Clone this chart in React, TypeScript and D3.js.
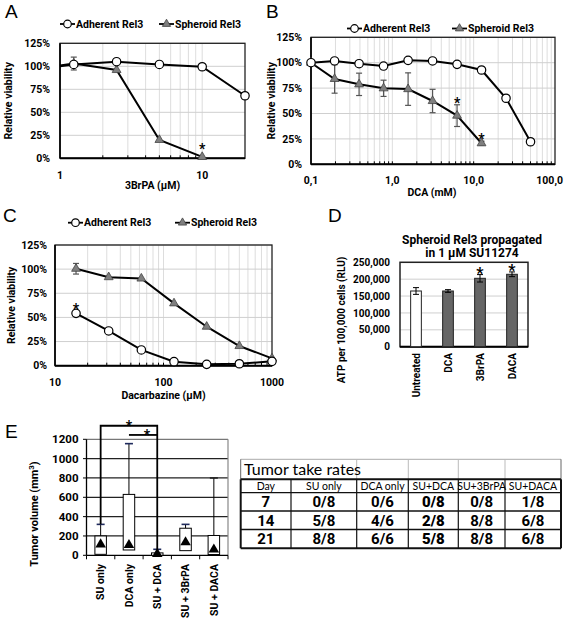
import React from "react";
import * as d3 from "d3";

const FONT = "Roboto, 'Open Sans', 'DejaVu Sans', sans-serif";
const TABLE_FONT = "Lato, Roboto, sans-serif";
const LABEL_FONT = "'Liberation Sans', Arial, sans-serif";

// ---------- Panel A: 3BrPA ----------
const aDoses = [1, 1.25, 2.5, 5, 10, 20];
const aAdherent = [100, 102, 105, 102, 99.5, 68];
const aSpheroid = [101, 103, 96, 20, 1.5];
const aSpheroidErr = [0, 7, 0, 0, 0];
const aStars = [{ x: 10, y: 12.6 }];
const aXTicks = [1, 10];
const aXTickLabels = ["1", "10"];

// ---------- Panel B: DCA ----------
const bDoses = [0.1, 0.195, 0.39, 0.78, 1.5625, 3.125, 6.25, 12.5, 25, 50];
const bAdherent = [100, 101.7, 99, 96.7, 102.3, 101.7, 98.4, 92.8, 65, 22.2];
const bSpheroid = [100, 84, 78.7, 74.8, 74, 62.3, 47.9, 20.7];
const bSpheroidErr = [0, 14, 11, 8, 16, 11.5, 10.7, 2];
const bStars = [{ x: 6.25, y: 62.3 }, { x: 12.5, y: 26.6 }];
const bXTicks = [0.1, 1, 10, 100];
const bXTickLabels = ["0,1", "1,0", "10,0", "100,0"];

// ---------- Panel C: Dacarbazine ----------
const cDoses = [15.625, 31.25, 62.5, 125, 250, 500, 1000];
const cAdherent = [54.2, 36, 16.3, 4.2, 1.4, 2, 4.5];
const cSpheroid = [100.4, 91.7, 90.3, 64.6, 40.4, 20.4, 7.6];
const cSpheroidErr = [5.5, 0, 0, 0, 0, 0, 0];
const cStars = [{ x: 15.625, y: 60.5 }];
const cXTicks = [10, 100, 1000];
const cXTickLabels = ["10", "100", "1000"];

const pctTicks = [0, 25, 50, 75, 100, 125];

// ---------- Panel D: ATP ----------
const dCats = ["Untreated", "DCA", "3BrPA", "DACA"];
const dValues = [165000, 165000, 202600, 214500];
const dErrors = [10000, 4000, 11000, 7000];
const dFills = ["#ffffff", "#666666", "#666666", "#666666"];
const dStarred = [false, false, true, true];
const dTicks = [0, 50000, 100000, 150000, 200000, 250000];

// ---------- Panel E: tumor volume ----------
const eGroups = ["SU only", "DCA only", "SU + DCA", "SU + 3BrPA", "SU + DACA"];
const eQ1 = [10, 55, 0, 48, 8];
const eQ3 = [200, 630, 25, 280, 205];
const eMax = [320, 1155, 62, 320, 800];
const eMean = [113, 106, 15, 135, 60];
const eTicks = [0, 200, 400, 600, 800, 1000, 1200];

// ---------- Table ----------
const tableTitle = "Tumor take rates";
const tableHeader = ["Day", "SU only", "DCA only", "SU+DCA", "SU+3BrPA", "SU+DACA"];
const tableDays = ["7", "14", "21"];
const takeSUOnly = ["0/8", "5/8", "8/8"];
const takeDCAOnly = ["0/6", "4/6", "6/6"];
const takeSUDCA = ["0/8", "2/8", "5/8"];
const takeSU3BrPA = ["0/8", "8/8", "8/8"];
const takeSUDACA = ["1/8", "6/8", "6/8"];

const triPath = (size: number) => d3.symbol(d3.symbolTriangle, size)() as string;

function Legend({ x1, x2, y, label1, label2 }: any) {
  return (
    <g fontFamily={FONT} fontWeight={700} fontSize={10.5}>
      <line x1={x1} x2={x1 + 15} y1={y} y2={y} stroke="#000" strokeWidth={1.8} />
      <circle cx={x1 + 7.5} cy={y} r={3.8} fill="#fff" stroke="#000" strokeWidth={1.2} />
      <text x={x1 + 16} y={y} dy="0.36em">{label1}</text>
      <line x1={x2} x2={x2 + 15} y1={y} y2={y} stroke="#000" strokeWidth={1.8} />
      <path d={triPath(30)} transform={`translate(${x2 + 7.5},${y})`} fill="#7f7f7f" stroke="#444" strokeWidth={0.8} />
      <text x={x2 + 16} y={y} dy="0.36em">{label2}</text>
    </g>
  );
}

function LogPanel({ c }: any) {
  const x = d3.scaleLog().domain(c.xDomain).range(c.xRange);
  const y = d3.scaleLinear().domain([0, 125]).range(c.yRange);
  const grid = x.ticks().filter((v) => v > c.xDomain[0] * 1.001 && v < c.xDomain[1] * 0.999);
  const line = d3.line<number>().x((_, i) => x(c.doses[i])).y((v) => y(v));
  const [x0, x1] = c.xRange;
  const [yb, yt] = c.yRange;
  return (
    <g fontFamily={FONT} fontWeight={700}>
      {grid.map((v: number, i: number) => (
        <line key={"gv" + i} x1={x(v)} x2={x(v)} y1={yt} y2={yb} stroke="#d4d4d4" strokeWidth={0.8} />
      ))}
      {pctTicks.map((t) => (
        <line key={"gh" + t} x1={x0} x2={x1} y1={y(t)} y2={y(t)} stroke="#cfcfcf" strokeWidth={1} />
      ))}
      <rect x={x0} y={yt} width={x1 - x0} height={yb - yt} fill="none" stroke="#222" strokeWidth={1.3} />
      <line x1={x0} x2={x1} y1={yb} y2={yb} stroke="#000" strokeWidth={2} />
      <line x1={x0} x2={x0} y1={yt} y2={yb} stroke="#000" strokeWidth={1.6} />
      {grid.map((v: number, i: number) => (
        <line key={"tk" + i} x1={x(v)} x2={x(v)} y1={yb} y2={yb - 3} stroke="#000" strokeWidth={1} />
      ))}
      {pctTicks.map((t) => (
        <text key={"yl" + t} x={c.yLabelX} y={y(t)} dy="0.36em" textAnchor="end" fontSize={10.5}>
          {t + "%"}
        </text>
      ))}
      {c.xTicks.map((t: number, i: number) => {
        const last = i === c.xTicks.length - 1 && c.lastEnd;
        return (
          <text key={"xl" + t} x={last ? c.lastEnd : x(t)} y={c.xLabelY} textAnchor={last ? "end" : "middle"} fontSize={10.5}>
            {c.xTickLabels[i]}
          </text>
        );
      })}
      <text x={(x0 + x1) / 2 + c.titleDx} y={c.xTitleY} textAnchor="middle" fontSize={10.5}>
        {c.xTitle}
      </text>
      <text transform={`translate(${c.yTitleX},${(yt + yb) / 2}) rotate(-90)`} textAnchor="middle" fontSize={10.5}>
        Relative viability
      </text>
      {/* spheroid */}
      <path d={line(c.spheroid) as string} fill="none" stroke="#000" strokeWidth={2} />
      {c.spheroid.map((v: number, i: number) =>
        c.spheroidErr[i] > 0 ? (
          <g key={"eb" + i} stroke="#555" strokeWidth={1.2}>
            <line x1={x(c.doses[i])} x2={x(c.doses[i])} y1={y(v - c.spheroidErr[i])} y2={y(v + c.spheroidErr[i])} />
            <line x1={x(c.doses[i]) - 3} x2={x(c.doses[i]) + 3} y1={y(v - c.spheroidErr[i])} y2={y(v - c.spheroidErr[i])} />
            <line x1={x(c.doses[i]) - 3} x2={x(c.doses[i]) + 3} y1={y(v + c.spheroidErr[i])} y2={y(v + c.spheroidErr[i])} />
          </g>
        ) : null
      )}
      {c.spheroid.map((v: number, i: number) =>
        c.hideFirst && i === 0 ? null : (
          <path key={"tri" + i} d={triPath(34)} transform={`translate(${x(c.doses[i])},${y(v)})`} fill="#7f7f7f" stroke="#444" strokeWidth={0.8} />
        )
      )}
      {/* adherent */}
      <path d={line(c.adherent) as string} fill="none" stroke="#000" strokeWidth={2} />
      {c.adherent.map((v: number, i: number) =>
        c.hideFirst && i === 0 ? null : (
          <circle key={"ci" + i} cx={x(c.doses[i])} cy={y(v)} r={4.2} fill="#fff" stroke="#000" strokeWidth={1.2} />
        )
      )}
      {c.stars.map((s: any, i: number) => (
        <text key={"st" + i} x={x(s.x)} y={y(s.y) + 7} textAnchor="middle" fontSize={14}>
          *
        </text>
      ))}
    </g>
  );
}

function PanelD() {
  const x = d3.scaleBand<string>().domain(dCats).range([400, 528]).paddingInner(0.66).paddingOuter(0.33);
  const y = d3.scaleLinear().domain([0, 250000]).range([346.7, 262.3]);
  const fmt = d3.format(",");
  const bw = 10.7;
  return (
    <g fontFamily={FONT} fontWeight={700}>
      <text x={472} y={244} textAnchor="middle" fontSize={12}>Spheroid Rel3 propagated</text>
      <text x={472} y={257} textAnchor="middle" fontSize={12}>in 1 µM SU11274</text>
      {dTicks.map((t) => (
        <line key={"g" + t} x1={400} x2={528} y1={y(t)} y2={y(t)} stroke="#cfcfcf" strokeWidth={1} />
      ))}
      <rect x={400} y={262.3} width={128} height={84.4} fill="none" stroke="#222" strokeWidth={1.5} />
      <line x1={400} x2={528} y1={346.7} y2={346.7} stroke="#000" strokeWidth={2} />
      {dTicks.map((t) => (
        <text key={"l" + t} x={390} y={y(t)} dy="0.36em" textAnchor="end" fontSize={10}>
          {fmt(t)}
        </text>
      ))}
      <text transform={`translate(345,320) rotate(-90)`} textAnchor="middle" fontSize={10}>
        ATP per 100,000 cells (RLU)
      </text>
      {dCats.map((cat, i) => {
        const cx = (x(cat) as number) + x.bandwidth() / 2;
        return (
          <g key={cat}>
            <rect x={cx - bw / 2} y={y(dValues[i])} width={bw} height={346.7 - y(dValues[i])} fill={dFills[i]} stroke="#222" strokeWidth={1} />
            <g stroke="#000" strokeWidth={1}>
              <line x1={cx} x2={cx} y1={y(dValues[i] - dErrors[i])} y2={y(dValues[i] + dErrors[i])} />
              <line x1={cx - 3} x2={cx + 3} y1={y(dValues[i] - dErrors[i])} y2={y(dValues[i] - dErrors[i])} />
              <line x1={cx - 3} x2={cx + 3} y1={y(dValues[i] + dErrors[i])} y2={y(dValues[i] + dErrors[i])} />
            </g>
            {dStarred[i] ? (
              <text x={cx} y={y(dValues[i] + dErrors[i]) + 4} textAnchor="middle" fontSize={16}>*</text>
            ) : null}
            <text transform={`translate(${cx},353) rotate(-90)`} dy="0.36em" textAnchor="end" fontSize={10}>
              {cat}
            </text>
          </g>
        );
      })}
    </g>
  );
}

function PanelE() {
  const x = d3.scaleBand<string>().domain(eGroups).range([86.5, 228]);
  const y = d3.scaleLinear().domain([0, 1200]).range([555.3, 439.3]);
  const bw = 11.5;
  const cx = (g: string) => (x(g) as number) + x.bandwidth() / 2;
  const bracketTop = y(1340);
  const bracket2 = y(1245);
  return (
    <g fontFamily={FONT} fontWeight={700}>
      {eTicks.filter((t) => t > 0 && t < 1200).map((t) => (
        <line key={"g" + t} x1={86.5} x2={228} y1={y(t)} y2={y(t)} stroke="#222" strokeWidth={1.3} />
      ))}
      <line x1={86.5} x2={228} y1={y(1200)} y2={y(1200)} stroke="#777" strokeWidth={1.3} />
      <line x1={228} x2={228} y1={y(1200)} y2={y(0)} stroke="#888" strokeWidth={1.2} />
      <line x1={86.5} x2={86.5} y1={y(1200)} y2={y(0)} stroke="#000" strokeWidth={1.3} />
      <line x1={86.5} x2={228} y1={y(0)} y2={y(0)} stroke="#000" strokeWidth={1.3} />
      {d3.range(eGroups.length + 1).map((i) => (
        <line key={"tk" + i} x1={86.5 + i * x.step()} x2={86.5 + i * x.step()} y1={y(0)} y2={y(0) + 4} stroke="#000" strokeWidth={1} />
      ))}
      {eTicks.map((t) => (
        <line key={"yt" + t} x1={83} x2={86.5} y1={y(t)} y2={y(t)} stroke="#000" strokeWidth={1} />
      ))}
      {eTicks.map((t) => (
        <text key={"yl" + t} x={78.5} y={y(t)} dy="0.36em" textAnchor="end" fontSize={11.5}>
          {t}
        </text>
      ))}
      <text transform={`translate(38,514) rotate(-90)`} textAnchor="middle" fontSize={11}>
        Tumor volume (mm<tspan baselineShift="super" fontSize={8}>3</tspan>)
      </text>
      {eGroups.map((g, i) => (
        <g key={g}>
          <line x1={cx(g)} x2={cx(g)} y1={y(eQ3[i])} y2={y(eMax[i])} stroke="#000" strokeWidth={1} />
          <line x1={cx(g) - 4} x2={cx(g) + 4} y1={y(eMax[i])} y2={y(eMax[i])} stroke={i === 4 ? "#222" : "#1f2a5c"} strokeWidth={1.6} />
          <rect x={cx(g) - bw / 2} y={y(eQ3[i])} width={bw} height={y(eQ1[i]) - y(eQ3[i])} fill="#fff" stroke="#000" strokeWidth={1} />
          <path d={triPath(48)} transform={`translate(${cx(g)},${y(eMean[i])})`} fill="#000" />
          <text transform={`translate(${cx(g)},564) rotate(-90)`} dy="0.36em" textAnchor="end" fontSize={10.5}>
            {g}
          </text>
        </g>
      ))}
      {/* significance brackets */}
      <path
        d={`M${cx(eGroups[0])},${y(eMax[0])}V${bracketTop}H${cx(eGroups[2])}V${y(37)}`}
        fill="none"
        stroke="#000"
        strokeWidth={1.8}
      />
      <line x1={cx(eGroups[1])} x2={cx(eGroups[2])} y1={bracket2} y2={bracket2} stroke="#000" strokeWidth={1.8} />
      <text x={129} y={bracketTop + 5} textAnchor="middle" fontSize={14}>*</text>
      <text x={147} y={bracket2 + 5} textAnchor="middle" fontSize={14}>*</text>
    </g>
  );
}

const colEdges = [240.7, 291, 356.7, 408.3, 458.3, 505, 561];
const rowEdges = [459.3, 479.3, 492.7, 511, 529.5, 548.3];

function Table() {
  const cols = [tableDays, takeSUOnly, takeDCAOnly, takeSUDCA, takeSU3BrPA, takeSUDACA];
  const mid = (i: number) => (colEdges[i] + colEdges[i + 1]) / 2;
  return (
    <g fontFamily={TABLE_FONT}>
      <line x1={colEdges[0]} x2={colEdges[6]} y1={rowEdges[0]} y2={rowEdges[0]} stroke="#aaa" strokeWidth={1} />
      {[0, 2, 3, 4, 5, 6].map((c) => (
        <line key={"tv" + c} x1={colEdges[c]} x2={colEdges[c]} y1={rowEdges[0]} y2={rowEdges[1]} stroke={c === 0 || c === 6 ? "#666" : "#bbb"} strokeWidth={1} />
      ))}
      <text x={244} y={475} fontSize={16}>{tableTitle}</text>
      {rowEdges.slice(1).map((r, i) => (
        <line key={"r" + i} x1={colEdges[0]} x2={colEdges[6]} y1={r} y2={r} stroke="#111" strokeWidth={i === 0 || i === 4 ? 2 : 1.3} />
      ))}
      {colEdges.map((c, i) => (
        <line key={"c" + i} x1={c} x2={c} y1={rowEdges[1]} y2={rowEdges[5]} stroke="#111" strokeWidth={i === 0 || i === 6 ? 2 : 1.2} />
      ))}
      {tableHeader.map((h, i) => (
        <text key={h} x={mid(i)} y={490} textAnchor="middle" fontSize={10.5}>
          {h}
        </text>
      ))}
      {tableDays.map((_, r) => (
        <g key={"row" + r}>
          {cols.map((col, ci) => (
            <text
              key={ci}
              x={mid(ci)}
              y={(rowEdges[r + 2] + rowEdges[r + 3]) / 2}
              dy="0.36em"
              textAnchor="middle"
              fontSize={15}
              fontFamily={FONT}
              fontWeight={ci === 3 ? 900 : 700}
            >
              {col[r]}
            </text>
          ))}
        </g>
      ))}
    </g>
  );
}

export default function App() {
  const cfgA = {
    doses: aDoses, adherent: aAdherent, spheroid: aSpheroid, spheroidErr: aSpheroidErr, stars: aStars,
    xDomain: [1, 20], xRange: [60, 245], yRange: [158.3, 43.3],
    xTicks: aXTicks, xTickLabels: aXTickLabels, xTitle: "3BrPA (µM)", titleDx: 0,
    yLabelX: 50, xLabelY: 179, xTitleY: 189, yTitleX: 12, hideFirst: true, lastEnd: 0,
  };
  const cfgB = {
    doses: bDoses, adherent: bAdherent, spheroid: bSpheroid, spheroidErr: bSpheroidErr, stars: bStars,
    xDomain: [0.1, 100], xRange: [311, 555], yRange: [164.3, 37.3],
    xTicks: bXTicks, xTickLabels: bXTickLabels, xTitle: "DCA (mM)", titleDx: -1,
    yLabelX: 302, xLabelY: 184, xTitleY: 196, yTitleX: 275, hideFirst: false, lastEnd: 563,
  };
  const cfgC = {
    doses: cDoses, adherent: cAdherent, spheroid: cSpheroid, spheroidErr: cSpheroidErr, stars: cStars,
    xDomain: [10, 1000], xRange: [55, 272], yRange: [365.7, 245],
    xTicks: cXTicks, xTickLabels: cXTickLabels, xTitle: "Dacarbazine (µM)", titleDx: 0,
    yLabelX: 47, xLabelY: 386, xTitleY: 399, yTitleX: 15, hideFirst: false, lastEnd: 0,
  };
  return (
    <svg width={567} height={622} style={{ position: "absolute", left: 0, top: 0, background: "#fff" }}>
      <rect width={567} height={622} fill="#fff" />
      <g fontFamily={LABEL_FONT} fontSize={19}>
        <text x={5} y={18}>A</text>
        <text x={266} y={18}>B</text>
        <text x={3} y={222}>C</text>
        <text x={328} y={222}>D</text>
        <text x={5} y={438}>E</text>
      </g>
      <Legend x1={60} x2={159} y={24} label1="Adherent  Rel3" label2="Spheroid Rel3" />
      <Legend x1={347} x2={452} y={28.5} label1="Adherent Rel3" label2="Spheroid Rel3" />
      <Legend x1={68} x2={175} y={222.7} label1="Adherent Rel3" label2="Spheroid Rel3" />
      <LogPanel c={cfgA} />
      <LogPanel c={cfgB} />
      <LogPanel c={cfgC} />
      <PanelD />
      <PanelE />
      <Table />
    </svg>
  );
}
